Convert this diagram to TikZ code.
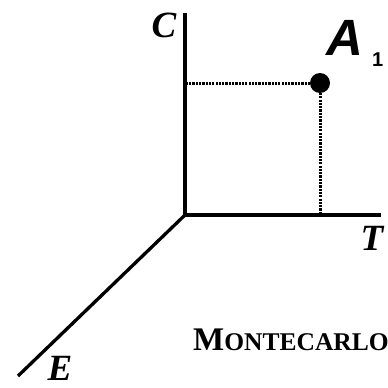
\documentclass[tikz,border=0pt]{standalone}
\usepackage{fontspec}
\setmainfont{Liberation Serif}
\newfontfamily\pointfont{Liberation Sans}
\usetikzlibrary{positioning, calc}

\begin{document}
\begin{tikzpicture}[
    x=1pt, y=-1pt,
    axis/.style={line width=3.3pt},
    guide/.style={line width=3pt, dash pattern=on 2.2pt off 1.1pt},
    axislabel/.style={font=\fontsize{37}{37}\selectfont\bfseries\itshape, inner sep=0pt},
    point/.style={circle, fill=black, minimum size=20pt, inner sep=0pt}
]
    \useasboundingbox (0,0) rectangle (388,388);

    % Axes
    \coordinate (origin) at (185,215);
    \coordinate (cend) at (185,13);
    \coordinate (tend) at (381,215);
    \coordinate (eend) at (18,376);
    \draw[axis] (cend) -- (origin) -- (tend);
    \draw[axis] (origin) -- (eend);

    % Point
    \node[point] (a1) at (320,83) {};
    \draw[guide] (a1.center) -- (a1.center -| origin);
    \draw[guide] (a1.center) -- (a1.center |- origin);

    % Labels
    \node[axislabel] (clabel) at (164,25) {C};
    \node[axislabel] (tlabel) at (372,238) {T};
    \node[axislabel] (elabel) at (60,368) {E};
    \node[inner sep=0pt, anchor=base west] (a1label) at (326,55)
        {\pointfont\bfseries{\fontsize{51}{51}\selectfont\itshape A}\hspace{9pt}\raisebox{-11pt}{\fontsize{20}{20}\selectfont 1}};
    \node[inner sep=0pt, anchor=base west] (method) at (193,350)
        {\bfseries{\fontsize{33}{33}\selectfont M}{\fontsize{25.5}{25.5}\selectfont ONTECARLO}};
\end{tikzpicture}
\end{document}
